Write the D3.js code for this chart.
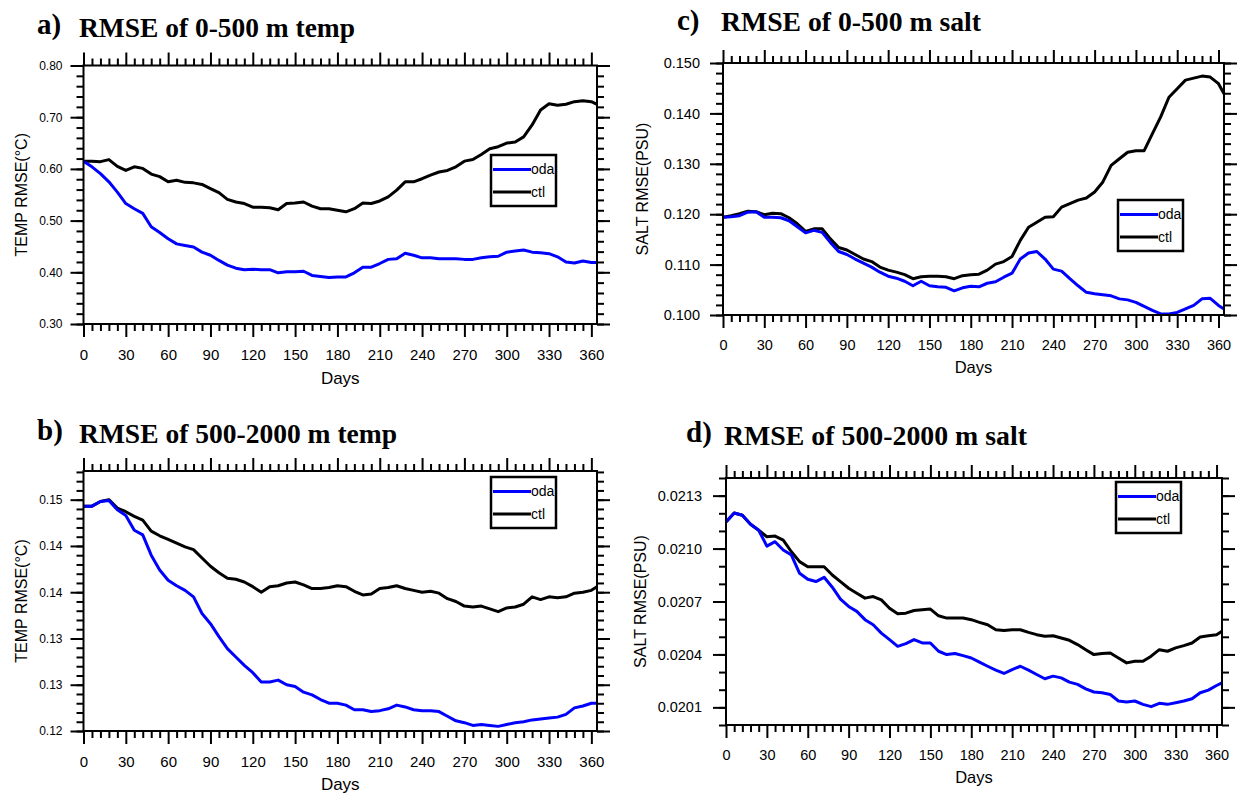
<!DOCTYPE html>
<html>
<head>
<meta charset="utf-8">
<script src="https://cdn.jsdelivr.net/npm/d3@7"></script>
<style>
	body { margin: 0; background: #fff; }
	svg { display: block; }
</style>
</head>
<body>
<div id="chart"></div>
<script>
// days sampled along the x axis
const days = [0, 6, 12, 18, 24, 30, 36, 42, 48, 54, 60, 66, 72, 78, 84, 90, 96, 102, 108, 114,
	120, 126, 132, 138, 144, 150, 156, 162, 168, 174, 180, 186, 192, 198, 204, 210, 216, 222, 228, 234,
	240, 246, 252, 258, 264, 270, 276, 282, 288, 294, 300, 306, 312, 318, 324, 330, 336, 342, 348, 354,
	360, 364]
const xTicks = [0, 30, 60, 90, 120, 150, 180, 210, 240, 270, 300, 330, 360]

// a) 0-500 m temp
const tempUpperOda = [0.615, 0.604, 0.591, 0.575, 0.555, 0.533, 0.523, 0.514, 0.488, 0.477,
	0.465, 0.455, 0.452, 0.449, 0.439, 0.433, 0.423, 0.414, 0.408, 0.405,
	0.406, 0.405, 0.405, 0.399, 0.401, 0.401, 0.402, 0.394, 0.392, 0.390,
	0.391, 0.391, 0.399, 0.410, 0.410, 0.417, 0.425, 0.426, 0.437, 0.433,
	0.428, 0.428, 0.426, 0.426, 0.426, 0.425, 0.425, 0.428, 0.430, 0.431,
	0.439, 0.441, 0.443, 0.439, 0.438, 0.436, 0.430, 0.420, 0.418, 0.422,
	0.419, 0.419]
const tempUpperCtl = [0.615, 0.615, 0.614, 0.618, 0.605, 0.597, 0.604, 0.601, 0.590, 0.585,
	0.575, 0.578, 0.574, 0.573, 0.570, 0.562, 0.554, 0.541, 0.536, 0.533,
	0.526, 0.526, 0.525, 0.521, 0.533, 0.534, 0.536, 0.528, 0.523, 0.523,
	0.520, 0.517, 0.523, 0.534, 0.533, 0.538, 0.546, 0.559, 0.575, 0.575,
	0.581, 0.588, 0.594, 0.597, 0.604, 0.615, 0.618, 0.628, 0.639, 0.643,
	0.650, 0.652, 0.662, 0.685, 0.714, 0.726, 0.723, 0.725, 0.730, 0.732,
	0.730, 0.725]
const tempUpperTicks = [0.30, 0.40, 0.50, 0.60, 0.70, 0.80]
const tempUpperLabels = ['0.30', '0.40', '0.50', '0.60', '0.70', '0.80']

// b) 500-2000 m temp
const tempDeepOda = [0.1443, 0.1443, 0.1448, 0.1449, 0.1439, 0.1433, 0.1417, 0.1412, 0.1390, 0.1374,
	0.1363, 0.1357, 0.1352, 0.1345, 0.1327, 0.1316, 0.1302, 0.1289, 0.1280, 0.1271,
	0.1263, 0.1253, 0.1253, 0.1255, 0.1250, 0.1248, 0.1242, 0.1239, 0.1234, 0.1230,
	0.1230, 0.1228, 0.1223, 0.1223, 0.1221, 0.1222, 0.1224, 0.1228, 0.1226, 0.1223,
	0.1222, 0.1222, 0.1221, 0.1216, 0.1211, 0.1209, 0.1206, 0.1207, 0.1206, 0.1205,
	0.1207, 0.1209, 0.1210, 0.1212, 0.1213, 0.1214, 0.1215, 0.1218, 0.1225, 0.1227,
	0.1230, 0.1230]
const tempDeepCtl = [0.1443, 0.1443, 0.1448, 0.1450, 0.1441, 0.1437, 0.1432, 0.1428, 0.1416, 0.1411,
	0.1407, 0.1403, 0.1399, 0.1396, 0.1387, 0.1378, 0.1371, 0.1365, 0.1364, 0.1361,
	0.1356, 0.1350, 0.1356, 0.1357, 0.1360, 0.1361, 0.1358, 0.1354, 0.1354, 0.1355,
	0.1357, 0.1356, 0.1351, 0.1347, 0.1348, 0.1354, 0.1355, 0.1357, 0.1354, 0.1352,
	0.1350, 0.1351, 0.1349, 0.1343, 0.1340, 0.1335, 0.1334, 0.1335, 0.1332, 0.1329,
	0.1333, 0.1334, 0.1337, 0.1345, 0.1342, 0.1345, 0.1344, 0.1345, 0.1349, 0.1350,
	0.1352, 0.1356]
const tempDeepTicks = [0.120, 0.125, 0.130, 0.135, 0.140, 0.145]
const tempDeepLabels = ['0.12', '0.13', '0.13', '0.14', '0.14', '0.15']

// c) 0-500 m salt
const saltUpperOda = [0.1194, 0.1195, 0.1197, 0.1204, 0.1205, 0.1194, 0.1194, 0.1193, 0.1187, 0.1175,
	0.1163, 0.1168, 0.1164, 0.1144, 0.1126, 0.1120, 0.1111, 0.1103, 0.1095, 0.1085,
	0.1077, 0.1073, 0.1067, 0.1058, 0.1067, 0.1058, 0.1056, 0.1055, 0.1048, 0.1054,
	0.1057, 0.1056, 0.1063, 0.1066, 0.1075, 0.1083, 0.1111, 0.1123, 0.1126, 0.1111,
	0.1091, 0.1087, 0.1072, 0.1058, 0.1045, 0.1042, 0.1040, 0.1038, 0.1032, 0.1030,
	0.1025, 0.1017, 0.1009, 0.1002, 0.1002, 0.1005, 0.1012, 0.1019, 0.1032, 0.1033,
	0.1019, 0.1012]
const saltUpperCtl = [0.1194, 0.1197, 0.1201, 0.1206, 0.1205, 0.1199, 0.1202, 0.1201, 0.1193, 0.1181,
	0.1166, 0.1171, 0.1171, 0.1151, 0.1134, 0.1129, 0.1120, 0.1111, 0.1106, 0.1095,
	0.1089, 0.1085, 0.1080, 0.1072, 0.1076, 0.1077, 0.1077, 0.1076, 0.1072, 0.1078,
	0.1080, 0.1081, 0.1089, 0.1101, 0.1106, 0.1116, 0.1148, 0.1174, 0.1184, 0.1194,
	0.1195, 0.1214, 0.1221, 0.1228, 0.1232, 0.1244, 0.1264, 0.1297, 0.1310, 0.1323,
	0.1326, 0.1326, 0.1360, 0.1393, 0.1432, 0.1449, 0.1466, 0.1470, 0.1474, 0.1472,
	0.1459, 0.1439]
const saltUpperTicks = [0.100, 0.110, 0.120, 0.130, 0.140, 0.150]
const saltUpperLabels = ['0.100', '0.110', '0.120', '0.130', '0.140', '0.150']

// d) 500-2000 m salt
const saltDeepOda = [0.021151, 0.021202, 0.021189, 0.021138, 0.021104, 0.021014, 0.021039, 0.020992, 0.020963, 0.020860,
	0.020826, 0.020813, 0.020837, 0.020781, 0.020713, 0.020672, 0.020644, 0.020597, 0.020568, 0.020521,
	0.020484, 0.020446, 0.020461, 0.020484, 0.020465, 0.020465, 0.020418, 0.020399, 0.020405, 0.020393,
	0.020380, 0.020356, 0.020333, 0.020311, 0.020292, 0.020314, 0.020333, 0.020311, 0.020286, 0.020262,
	0.020277, 0.020267, 0.020243, 0.020230, 0.020205, 0.020187, 0.020183, 0.020173, 0.020136, 0.020130,
	0.020136, 0.020117, 0.020104, 0.020123, 0.020117, 0.020126, 0.020136, 0.020149, 0.020183, 0.020198,
	0.020224, 0.020239]
const saltDeepCtl = [0.021151, 0.021202, 0.021189, 0.021138, 0.021104, 0.021067, 0.021071, 0.021048, 0.020982, 0.020926,
	0.020897, 0.020897, 0.020897, 0.020850, 0.020813, 0.020775, 0.020747, 0.020719, 0.020728, 0.020709,
	0.020662, 0.020630, 0.020634, 0.020649, 0.020653, 0.020657, 0.020619, 0.020606, 0.020606, 0.020606,
	0.020597, 0.020582, 0.020568, 0.020540, 0.020536, 0.020540, 0.020540, 0.020525, 0.020512, 0.020503,
	0.020506, 0.020493, 0.020480, 0.020456, 0.020427, 0.020399, 0.020405, 0.020408, 0.020380, 0.020352,
	0.020361, 0.020361, 0.020390, 0.020427, 0.020418, 0.020437, 0.020450, 0.020465, 0.020499, 0.020506,
	0.020512, 0.020531]
const saltDeepTicks = [0.0201, 0.0204, 0.0207, 0.0210, 0.0213]
const saltDeepLabels = ['0.0201', '0.0204', '0.0207', '0.0210', '0.0213']

const seriesNames = ['oda', 'ctl']
const seriesColors = ['#0000ff', '#000000']

const sansFont = '"Liberation Sans", Arial, Helvetica, sans-serif'
const serifFont = '"Liberation Serif", "Times New Roman", serif'

const svg = d3.select('#chart')
	.append('svg')
	.attr('width', 1242)
	.attr('height', 794)
	.style('background', '#fff')

const panels = [
	{
		tag: 'a)', title: 'RMSE of 0-500 m temp', yTitle: 'TEMP RMSE(°C)',
		oda: tempUpperOda, ctl: tempUpperCtl, ticks: tempUpperTicks, labels: tempUpperLabels,
		yDomain: [0.30, 0.80], minor: d3.range(15, 41).map(k => k * 0.02),
		left: 83.5, right: 597, top: 65.5, bottom: 324,
		tagX: 37, tagY: 34, titleX: 79, titleY: 37, titleW: 276,
		yTitleX: 27, yLabSize: 12, yPad: 8, xLabSize: 15, xPad: 12.8, daysSize: 17, daysDy: 60,
		legX: 491, legY: 155
	},
	{
		tag: 'b)', title: 'RMSE of 500-2000 m temp', yTitle: 'TEMP RMSE(°C)',
		oda: tempDeepOda, ctl: tempDeepCtl, ticks: tempDeepTicks, labels: tempDeepLabels,
		yDomain: [0.120, 0.1481], minor: d3.range(120, 149).map(k => k * 0.001),
		left: 83.5, right: 597, top: 471, bottom: 731,
		tagX: 37, tagY: 440, titleX: 79, titleY: 443, titleW: 318,
		yTitleX: 27, yLabSize: 12, yPad: 8, xLabSize: 15, xPad: 12.3, daysSize: 17, daysDy: 59,
		legX: 491, legY: 477
	},
	{
		tag: 'c)', title: 'RMSE of 0-500 m salt', yTitle: 'SALT RMSE(PSU)',
		oda: saltUpperOda, ctl: saltUpperCtl, ticks: saltUpperTicks, labels: saltUpperLabels,
		yDomain: [0.100, 0.150], minor: d3.range(50, 76).map(k => k * 0.002),
		left: 723, right: 1224, top: 63, bottom: 315,
		tagX: 677, tagY: 30, titleX: 721, titleY: 31, titleW: 260,
		yTitleX: 648, yLabSize: 14.5, yPad: 10, xLabSize: 14.5, xPad: 12.2, daysSize: 16.5, daysDy: 57.5,
		legX: 1118, legY: 200
	},
	{
		tag: 'd)', title: 'RMSE of 500-2000 m salt', yTitle: 'SALT RMSE(PSU)',
		oda: saltDeepOda, ctl: saltDeepCtl, ticks: saltDeepTicks, labels: saltDeepLabels,
		yDomain: [0.0200, 0.0214], minor: d3.range(200, 215).map(k => k * 0.0001),
		left: 726, right: 1222, top: 478, bottom: 725,
		tagX: 686, tagY: 442, titleX: 724, titleY: 445, titleW: 303,
		yTitleX: 646, yLabSize: 14.5, yPad: 11, xLabSize: 14.5, xPad: 12.2, daysSize: 16.5, daysDy: 58,
		legX: 1116, legY: 482
	}
]

const styleAxis = (sel, fontSize) => {
	sel.select('.domain').remove()
	sel.selectAll('line').attr('stroke', '#000').attr('stroke-width', 2)
	sel.attr('font-family', sansFont).attr('font-size', fontSize)
	sel.selectAll('text').attr('fill', '#000')
}

panels.forEach(p => {
	const x = d3.scaleLinear().domain([0, 364]).range([p.left, p.right])
	const y = d3.scaleLinear().domain(p.yDomain).range([p.bottom, p.top])
	const xMinor = days.filter(d => d % 30 !== 0 && d <= 360)
	const g = svg.append('g')

	// titles
	g.append('text')
		.attr('x', p.tagX).attr('y', p.tagY)
		.attr('font-family', serifFont).attr('font-weight', 'bold').attr('font-size', 29)
		.text(p.tag)
	g.append('text')
		.attr('x', p.titleX).attr('y', p.titleY)
		.attr('font-family', serifFont).attr('font-weight', 'bold').attr('font-size', 27)
		.attr('textLength', p.titleW).attr('lengthAdjust', 'spacingAndGlyphs')
		.text(p.title)

	// series
	const line = d3.line()
		.x((d, i) => x(days[i]))
		.y(d => y(d))
	const series = [p.oda, p.ctl]
	;[1, 0].forEach(k => {
		g.append('path')
			.datum(series[k])
			.attr('d', line)
			.attr('fill', 'none')
			.attr('stroke', seriesColors[k])
			.attr('stroke-width', 3)
			.attr('stroke-linejoin', 'round')
	})

	// minor ticks, all four sides
	g.append('g').attr('transform', `translate(0,${p.bottom})`)
		.call(d3.axisBottom(x).tickValues(xMinor).tickSize(7).tickFormat(''))
		.call(s => styleAxis(s, 10))
	g.append('g').attr('transform', `translate(0,${p.top})`)
		.call(d3.axisTop(x).tickValues(xMinor).tickSize(7).tickFormat(''))
		.call(s => styleAxis(s, 10))
	g.append('g').attr('transform', `translate(${p.left},0)`)
		.call(d3.axisLeft(y).tickValues(p.minor).tickSize(7).tickFormat(''))
		.call(s => styleAxis(s, 10))
	g.append('g').attr('transform', `translate(${p.right},0)`)
		.call(d3.axisRight(y).tickValues(p.minor).tickSize(7).tickFormat(''))
		.call(s => styleAxis(s, 10))

	// major ticks
	g.append('g').attr('transform', `translate(0,${p.bottom})`)
		.call(d3.axisBottom(x).tickValues(xTicks).tickSize(13).tickPadding(p.xPad).tickFormat(d3.format('d')))
		.call(s => styleAxis(s, p.xLabSize))
	g.append('g').attr('transform', `translate(0,${p.top})`)
		.call(d3.axisTop(x).tickValues(xTicks).tickSize(13).tickFormat(''))
		.call(s => styleAxis(s, 10))
	g.append('g').attr('transform', `translate(${p.left},0)`)
		.call(d3.axisLeft(y).tickValues(p.ticks).tickSize(13).tickPadding(p.yPad)
			.tickFormat((d, i) => p.labels[i]))
		.call(s => styleAxis(s, p.yLabSize))
	g.append('g').attr('transform', `translate(${p.right},0)`)
		.call(d3.axisRight(y).tickValues(p.ticks).tickSize(13).tickFormat(''))
		.call(s => styleAxis(s, 10))

	// frame
	g.append('rect')
		.attr('x', p.left).attr('y', p.top)
		.attr('width', p.right - p.left).attr('height', p.bottom - p.top)
		.attr('fill', 'none').attr('stroke', '#000').attr('stroke-width', 2)

	// axis titles
	g.append('text')
		.attr('x', (p.left + p.right) / 2).attr('y', p.bottom + p.daysDy)
		.attr('text-anchor', 'middle')
		.attr('font-family', sansFont).attr('font-size', p.daysSize)
		.text('Days')
	g.append('text')
		.attr('transform', `translate(${p.yTitleX},${(p.top + p.bottom) / 2}) rotate(-90)`)
		.attr('text-anchor', 'middle')
		.attr('font-family', sansFont).attr('font-size', 16)
		.text(p.yTitle)

	// legend
	const lg = g.append('g').attr('transform', `translate(${p.legX},${p.legY})`)
	lg.append('rect')
		.attr('width', 65).attr('height', 51)
		.attr('fill', '#fff').attr('stroke', '#000').attr('stroke-width', 2.5)
	seriesNames.forEach((name, i) => {
		lg.append('line')
			.attr('x1', 2).attr('x2', 40)
			.attr('y1', 14.5 + i * 22.5).attr('y2', 14.5 + i * 22.5)
			.attr('stroke', seriesColors[i]).attr('stroke-width', 3)
		lg.append('text')
			.attr('x', 40).attr('y', 14.5 + i * 22.5).attr('dy', '0.35em')
			.attr('font-family', sansFont).attr('font-size', 14)
			.text(name)
	})
})
</script>
</body>
</html>
